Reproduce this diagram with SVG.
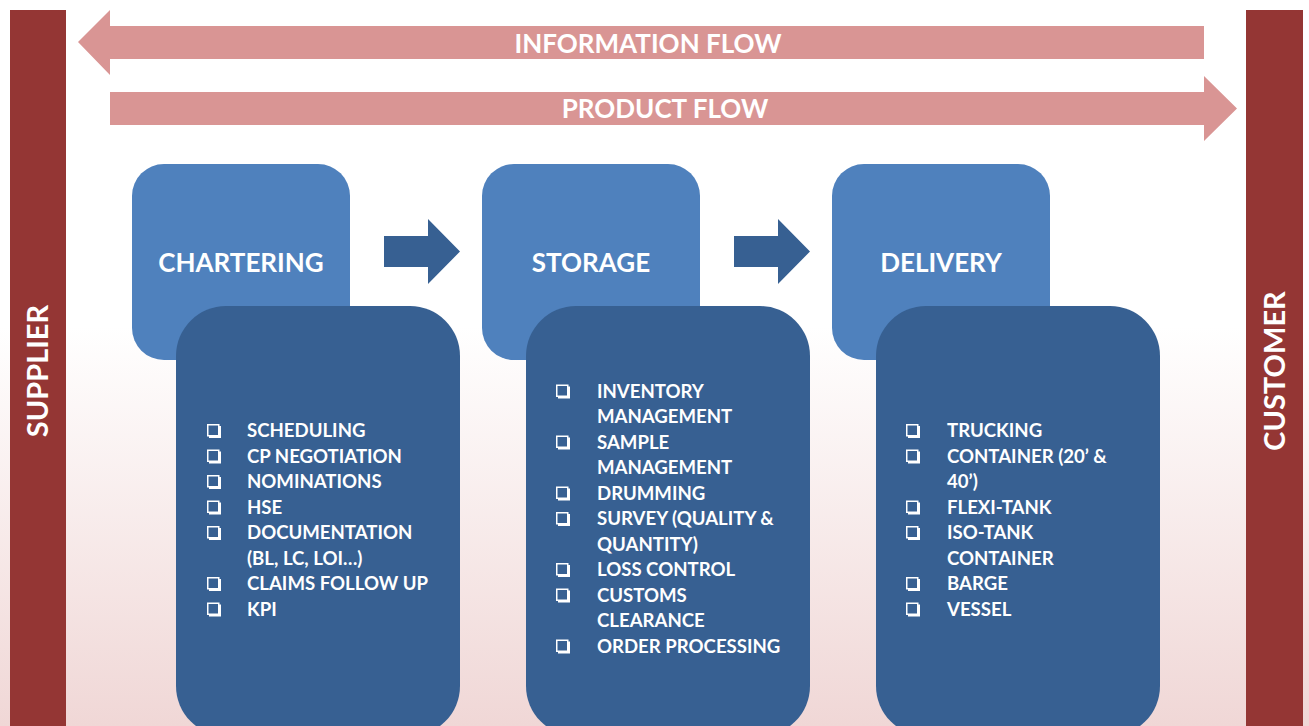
<svg xmlns="http://www.w3.org/2000/svg" width="1309" height="726" viewBox="0 0 1309 726">
<defs>
<linearGradient id="bg" x1="0" y1="0" x2="0" y2="1">
<stop offset="0" stop-color="#ffffff"/>
<stop offset="0.45" stop-color="#ffffff"/>
<stop offset="1" stop-color="#f0d7d6"/>
</linearGradient>
<g id="cb"><rect x="0.75" y="0.75" width="11" height="11" fill="none" stroke="#fff" stroke-width="1.5"/><path d="M2 13 H13 V2" fill="none" stroke="#fff" stroke-width="2"/></g>
</defs>
<style>
.bar{fill:#943634}
.flow{fill:#d99594}
.light{fill:#4f81bd}
.dark{fill:#376092}
.t{font-family:Lato,"Liberation Sans",sans-serif;font-weight:bold;fill:#fff}
.title{font-size:26px;text-anchor:middle}
.side{font-size:29px;text-anchor:middle}
.head{font-size:26px;text-anchor:middle}
.li{font-size:18.6px}
</style>
<rect width="1309" height="726" fill="url(#bg)"/>

<g id="supplier">
<rect class="bar" x="10" y="10" width="56" height="716"/>
<text class="t side" transform="translate(48 371) rotate(-90)">SUPPLIER</text>
</g>
<g id="customer">
<rect class="bar" x="1246" y="10" width="57" height="716"/>
<text class="t side" transform="translate(1285 371) rotate(-90)" font-size="30">CUSTOMER</text>
</g>

<g id="connectors">
<g id="information-flow">
<polygon class="flow" points="78,42 110,10 110,26 1204,26 1204,59 110,59 110,75"/>
<text class="t head" x="648" y="53">INFORMATION FLOW</text>
</g>
<g id="product-flow">
<polygon class="flow" points="110,92 1204,92 1204,76 1237,108.5 1204,141 1204,125 110,125"/>
<text class="t head" x="665" y="118">PRODUCT FLOW</text>
</g>
<polygon class="dark" points="384,236 428,236 428,219 460,251.5 428,284 428,267 384,267"/>
<polygon class="dark" points="734,236 778,236 778,219 810,251.5 778,284 778,267 734,267"/>
</g>

<g id="chartering">
<rect class="light" x="132" y="164" width="218" height="196" rx="32"/>
<text class="t title" x="241" y="272">CHARTERING</text>
<rect class="dark" x="176" y="306" width="284" height="430" rx="50"/>
<g class="t li">
<use href="#cb" x="207" y="424"/><text x="247" y="437">SCHEDULING</text>
<use href="#cb" x="207" y="449.5"/><text x="247" y="462.5">CP NEGOTIATION</text>
<use href="#cb" x="207" y="475"/><text x="247" y="488">NOMINATIONS</text>
<use href="#cb" x="207" y="500.5"/><text x="247" y="513.5">HSE</text>
<use href="#cb" x="207" y="526"/><text x="247" y="539">DOCUMENTATION</text>
<text x="247" y="564.5">(BL, LC, LOI…)</text>
<use href="#cb" x="207" y="577"/><text x="247" y="590">CLAIMS FOLLOW UP</text>
<use href="#cb" x="207" y="602.5"/><text x="247" y="615.5">KPI</text>
</g>
</g>

<g id="storage">
<rect class="light" x="482" y="164" width="218" height="196" rx="32"/>
<text class="t title" x="591" y="272">STORAGE</text>
<rect class="dark" x="526" y="306" width="284" height="430" rx="50"/>
<g class="t li">
<use href="#cb" x="556" y="384.5"/><text x="597" y="397.5">INVENTORY</text>
<text x="597" y="423">MANAGEMENT</text>
<use href="#cb" x="556" y="435.5"/><text x="597" y="448.5">SAMPLE</text>
<text x="597" y="474">MANAGEMENT</text>
<use href="#cb" x="556" y="486.5"/><text x="597" y="499.5">DRUMMING</text>
<use href="#cb" x="556" y="512"/><text x="597" y="525">SURVEY (QUALITY &amp;</text>
<text x="597" y="550.5">QUANTITY)</text>
<use href="#cb" x="556" y="563"/><text x="597" y="576">LOSS CONTROL</text>
<use href="#cb" x="556" y="588.5"/><text x="597" y="601.5">CUSTOMS</text>
<text x="597" y="627">CLEARANCE</text>
<use href="#cb" x="556" y="639.5"/><text x="597" y="652.5">ORDER PROCESSING</text>
</g>
</g>

<g id="delivery">
<rect class="light" x="832" y="164" width="218" height="196" rx="32"/>
<text class="t title" x="941" y="272">DELIVERY</text>
<rect class="dark" x="876" y="306" width="284" height="430" rx="50"/>
<g class="t li">
<use href="#cb" x="906" y="424"/><text x="947" y="437">TRUCKING</text>
<use href="#cb" x="906" y="449.5"/><text x="947" y="462.5">CONTAINER (20’ &amp;</text>
<text x="947" y="488">40’)</text>
<use href="#cb" x="906" y="500.5"/><text x="947" y="513.5">FLEXI-TANK</text>
<use href="#cb" x="906" y="526"/><text x="947" y="539">ISO-TANK</text>
<text x="947" y="564.5">CONTAINER</text>
<use href="#cb" x="906" y="577"/><text x="947" y="590">BARGE</text>
<use href="#cb" x="906" y="602.5"/><text x="947" y="615.5">VESSEL</text>
</g>
</g>
</svg>
